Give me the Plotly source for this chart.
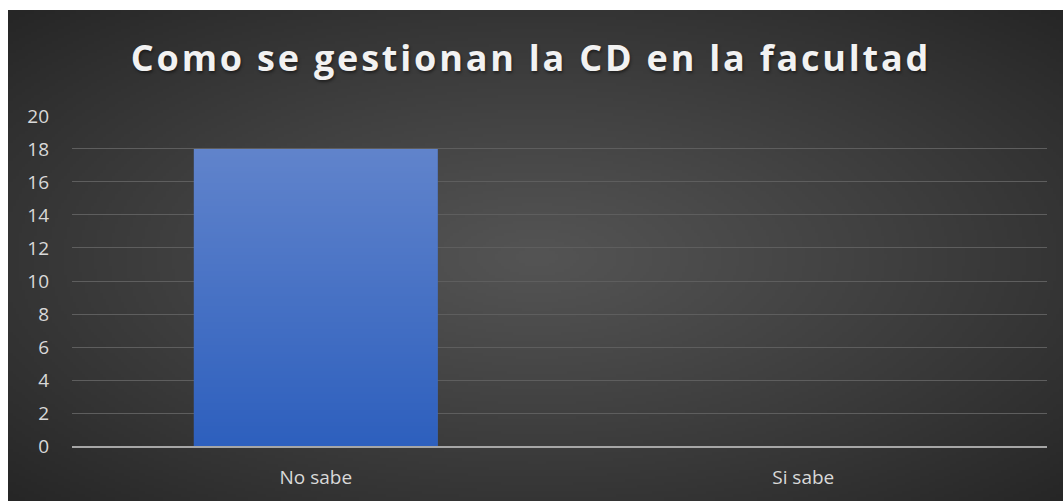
import base64
import struct
import zlib

import numpy as np
import plotly.graph_objects as go

# Data
categories = ["No sabe", "Si sabe"]
counts = [18, 0]
y_ticks = [0, 2, 4, 6, 8, 10, 12, 14, 16, 18, 20]
title_text = "Como se gestionan la CD en la facultad"

W, H = 1063, 501
M_L, M_R, M_T, M_B = 72, 16, 115, 55
BAR_WIDTH = 0.5
Y_MAX = 20.06


def png_data_uri(rgb):
    """Encode an (h, w, 3) uint8 array as a PNG data URI."""
    h, w, _ = rgb.shape
    raw = b"".join(b"\x00" + rgb[r].tobytes() for r in range(h))

    def chunk(tag, data):
        c = struct.pack(">I", len(data)) + tag + data
        return c + struct.pack(">I", zlib.crc32(tag + data) & 0xFFFFFFFF)

    png = b"\x89PNG\r\n\x1a\n"
    png += chunk(b"IHDR", struct.pack(">IIBBBBB", w, h, 8, 2, 0, 0, 0))
    png += chunk(b"IDAT", zlib.compress(raw, 9))
    png += chunk(b"IEND", b"")
    return "data:image/png;base64," + base64.b64encode(png).decode()


# Radial background: lighter in the middle, darker towards the corners
bw, bh = 350, 164
yy, xx = np.mgrid[0:bh, 0:bw]
dx = (xx - bw * 0.5) / (bw * 0.5)
dy = (yy - bh * 0.5) / (bh * 0.5)
r = np.clip(np.sqrt(dx ** 2 + dy ** 2) / 1.414, 0, 1)
inner, outer = 84.0, 38.0
val = inner + (outer - inner) * r ** 1.1
bg = np.repeat(val[:, :, None], 3, axis=2).astype(np.uint8)
bg_uri = png_data_uri(bg)

# Vertical gradient for the bars (top lighter, bottom deeper blue)
gh = 128
t = np.linspace(0, 1, gh)[:, None]
top = np.array([97, 132, 204], float)
bot = np.array([46, 96, 190], float)
grad = (top + (bot - top) * t)[:, None, :].repeat(4, axis=1).astype(np.uint8)
bar_uri = png_data_uri(grad)

plot_w = W - M_L - M_R
plot_h = H - M_T - M_B
# chart area starts 8px from the left and 10px from the top
x0p = (8 - M_L) / plot_w
x1p = (W - M_L) / plot_w
y0p = (H - M_B - 10) / plot_h
y1p = -M_B / plot_h

images = [
    dict(
        source=bg_uri, xref="paper", yref="paper",
        x=x0p, y=y0p, sizex=x1p - x0p, sizey=y0p - y1p,
        xanchor="left", yanchor="top", sizing="stretch", layer="below",
    )
]
for i, v in enumerate(counts):
    if v > 0:
        images.append(
            dict(
                source=bar_uri, xref="x", yref="y",
                x=i - BAR_WIDTH / 2, y=v, sizex=BAR_WIDTH, sizey=v,
                xanchor="left", yanchor="top", sizing="stretch", layer="above",
            )
        )

fig = go.Figure(
    go.Bar(
        x=list(range(len(categories))),
        y=counts,
        width=BAR_WIDTH,
        marker=dict(color="#4672c6", line=dict(width=0)),
        hoverinfo="skip",
    )
)

fig.update_layout(
    width=W,
    height=H,
    margin=dict(l=M_L, r=M_R, t=M_T, b=M_B),
    paper_bgcolor="#ffffff",
    plot_bgcolor="rgba(0,0,0,0)",
    images=images,
    showlegend=False,
    title=dict(
        text=title_text,
        x=531 / W,
        xref="container",
        xanchor="center",
        y=(501 - 58) / 501,
        yanchor="middle",
        font=dict(
            family="Open Sans", size=36, color="#f2f2f2", weight="bold",
            shadow="1px 2px 3px rgba(0,0,0,0.45)",
        ),
    ),
    xaxis=dict(
        tickmode="array",
        tickvals=list(range(len(categories))),
        ticktext=categories,
        range=[-0.5, len(categories) - 0.5],
        showgrid=False,
        showline=True,
        linecolor="#a6a6a6",
        linewidth=2,
        ticks="",
        zeroline=False,
        tickfont=dict(family="Open Sans", size=19, color="#d9d9d9"),
        ticklabelstandoff=13,
    ),
    yaxis=dict(
        range=[0, Y_MAX],
        tickmode="array",
        tickvals=y_ticks,
        showgrid=True,
        gridcolor="#5e5e5e",
        gridwidth=1,
        zeroline=False,
        showline=False,
        ticks="",
        tickfont=dict(family="Open Sans", size=19, color="#d9d9d9"),
        ticklabelstandoff=22,
    ),
)

# Widen the title's letter spacing
spacing_js = """
document.querySelectorAll('.gtitle').forEach(function (el) {
    el.style.letterSpacing = '2.8px';
});
"""

fig.write_html("out.html", post_script=spacing_js)
